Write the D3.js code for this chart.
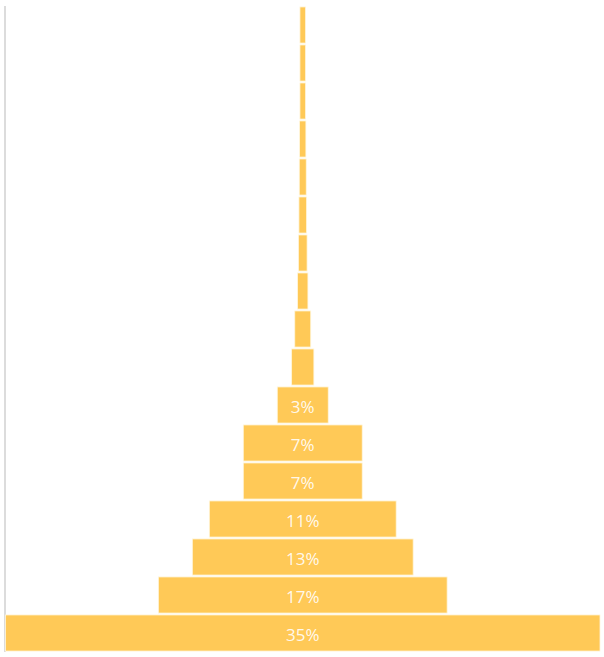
<!DOCTYPE html>
<html>
<head>
<meta charset="utf-8">
<script src="https://cdn.jsdelivr.net/npm/d3@7/dist/d3.min.js"></script>
<style>
  html, body { margin: 0; padding: 0; background: #ffffff; }
  svg { display: block; }
</style>
</head>
<body>
<div id="chart"></div>
<script>
// Funnel stages, top to bottom
const stages = [
  "Stage 1", "Stage 2", "Stage 3", "Stage 4", "Stage 5", "Stage 6",
  "Stage 7", "Stage 8", "Stage 9", "Stage 10", "Stage 11", "Stage 12",
  "Stage 13", "Stage 14", "Stage 15", "Stage 16", "Stage 17"
];
// Share of total (%) per stage
const shares = [
  0.33, 0.33, 0.33, 0.37, 0.41, 0.45,
  0.51, 0.61, 0.94, 1.31, 3, 7,
  7, 11, 13, 17, 35
];
// Stages large enough to carry a value label
const labelled = [
  false, false, false, false, false, false,
  false, false, false, false, true, true,
  true, true, true, true, true
];

const width = 604, height = 657;
const axisX = 5;
const left = 5.5, right = 600;
const centre = (left + right) / 2;

const rows = stages.map((s, i) => ({ stage: s, value: shares[i], label: labelled[i] }));

const svg = d3.select("#chart").append("svg")
  .attr("width", width)
  .attr("height", height);

const y = d3.scaleBand()
  .domain(stages)
  .range([6, 652])
  .paddingInner(0.05)
  .paddingOuter(0.025);

const x = d3.scaleLinear()
  .domain([0, d3.max(shares)])
  .range([0, right - left]);

// Left baseline
svg.append("line")
  .attr("x1", axisX).attr("x2", axisX)
  .attr("y1", 6).attr("y2", 652)
  .attr("stroke", "#dcdcdc")
  .attr("stroke-width", 2);

const bar = svg.append("g").selectAll("g")
  .data(rows)
  .join("g");

bar.append("rect")
  .attr("x", d => centre - x(d.value) / 2)
  .attr("y", d => y(d.stage))
  .attr("width", d => x(d.value))
  .attr("height", y.bandwidth())
  .attr("fill", "#FFC957")
  .attr("stroke", "#fff6dc")
  .attr("stroke-width", 0.8);

bar.filter(d => d.label).append("text")
  .attr("x", centre)
  .attr("y", d => y(d.stage) + y.bandwidth() / 2)
  .attr("dy", "0.45em")
  .attr("text-anchor", "middle")
  .attr("font-family", "'Open Sans', 'Noto Sans', sans-serif")
  .attr("font-size", 17)
  .attr("fill", "#ffffff")
  .attr("fill-opacity", 0.9)
  .text(d => d3.format(".0f")(d.value) + "%");
</script>
</body>
</html>
